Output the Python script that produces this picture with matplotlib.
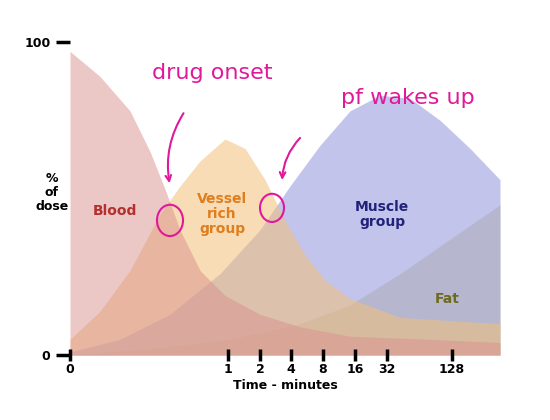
import matplotlib.pyplot as plt
from matplotlib.patches import Ellipse

# x positions on the chart's time scale (0..430 across the plot), y = % of dose
blood_x = [0, 30, 60, 80, 95, 110, 130, 155, 190, 230, 280, 360, 430]
blood_y = [97, 89, 78, 65, 53, 40, 27, 19, 13, 9, 6, 5, 4]
vessel_x = [0, 30, 60, 90, 110, 130, 155, 175, 195, 215, 235, 255, 280, 330, 430]
vessel_y = [5, 14, 27, 45, 54, 62, 69, 66, 56, 43, 32, 24, 18, 12, 10]
muscle_x = [0, 50, 100, 150, 190, 220, 250, 280, 310, 340, 370, 400, 430]
muscle_y = [1, 5, 13, 26, 40, 54, 67, 78, 83, 82, 75, 66, 56]
fat_x = [0, 80, 160, 230, 280, 330, 380, 430]
fat_y = [0, 2, 5, 10, 16, 26, 37, 48]

tick_pos = [0, 158, 190, 221, 253, 285, 317, 382]
tick_labels = ["0", "1", "2", "4", "8", "16", "32", "128"]

fig = plt.figure(figsize=(5.5, 4.2), dpi=100)
ax = fig.add_axes([70 / 550, 1 - 355 / 420, 430 / 550, 313 / 420])

ax.fill_between(fat_x, fat_y, color="#c9c27a", alpha=0.55, lw=0)
ax.fill_between(muscle_x, muscle_y, color="#9a9ee0", alpha=0.6, lw=0)
ax.fill_between(vessel_x, vessel_y, color="#f3c078", alpha=0.55, lw=0)
ax.fill_between(blood_x, blood_y, color="#d9908e", alpha=0.5, lw=0)

ax.set_xlim(0, 430)
ax.set_ylim(0, 100)
for s in ax.spines.values():
    s.set_visible(False)
ax.set_xticks(tick_pos)
ax.set_xticklabels(tick_labels, fontweight="bold", fontsize=9)
ax.tick_params(axis="x", length=8, width=2.5, direction="inout", pad=2)
ax.set_yticks([0, 100])
ax.set_yticklabels(["0", "100"], fontweight="bold", fontsize=9)
ax.tick_params(axis="y", length=10, width=2.5, pad=4)
ax.set_xlabel("Time - minutes", fontweight="bold", fontsize=9, labelpad=2)

ax.text(-18, 52, "%\nof\ndose", ha="center", va="center", fontweight="bold",
        fontsize=9, linespacing=1.1)
ax.text(45, 46, "Blood", color="#b3302c", fontweight="bold", fontsize=10, ha="center", va="center")
ax.text(152, 45, "Vessel\nrich\ngroup", color="#e07d1d", fontweight="bold", fontsize=10,
        ha="center", va="center", linespacing=1.1)
ax.text(312, 45, "Muscle\ngroup", color="#22227a", fontweight="bold", fontsize=10,
        ha="center", va="center", linespacing=1.1)
ax.text(377, 18, "Fat", color="#6d6a1e", fontweight="bold", fontsize=10, ha="center", va="center")

pink = "#e0199a"
ax.text(142, 90, "drug onset", color=pink, fontsize=16, ha="center", va="center",
        clip_on=False)
ax.text(338, 82, "pf wakes up", color=pink, fontsize=16, ha="center", va="center",
        clip_on=False)
ax.add_patch(Ellipse((100, 43), 26, 10, fill=False, ec=pink, lw=1.5))
ax.add_patch(Ellipse((202, 47), 24, 9, fill=False, ec=pink, lw=1.5))
ax.annotate("", xy=(100, 54), xytext=(115, 78), arrowprops=dict(
    arrowstyle="->", color=pink, lw=1.5, connectionstyle="arc3,rad=0.2"))
ax.annotate("", xy=(212, 55), xytext=(232, 70), arrowprops=dict(
    arrowstyle="->", color=pink, lw=1.5, connectionstyle="arc3,rad=0.2"))

fig.savefig("out.png", dpi=100)
